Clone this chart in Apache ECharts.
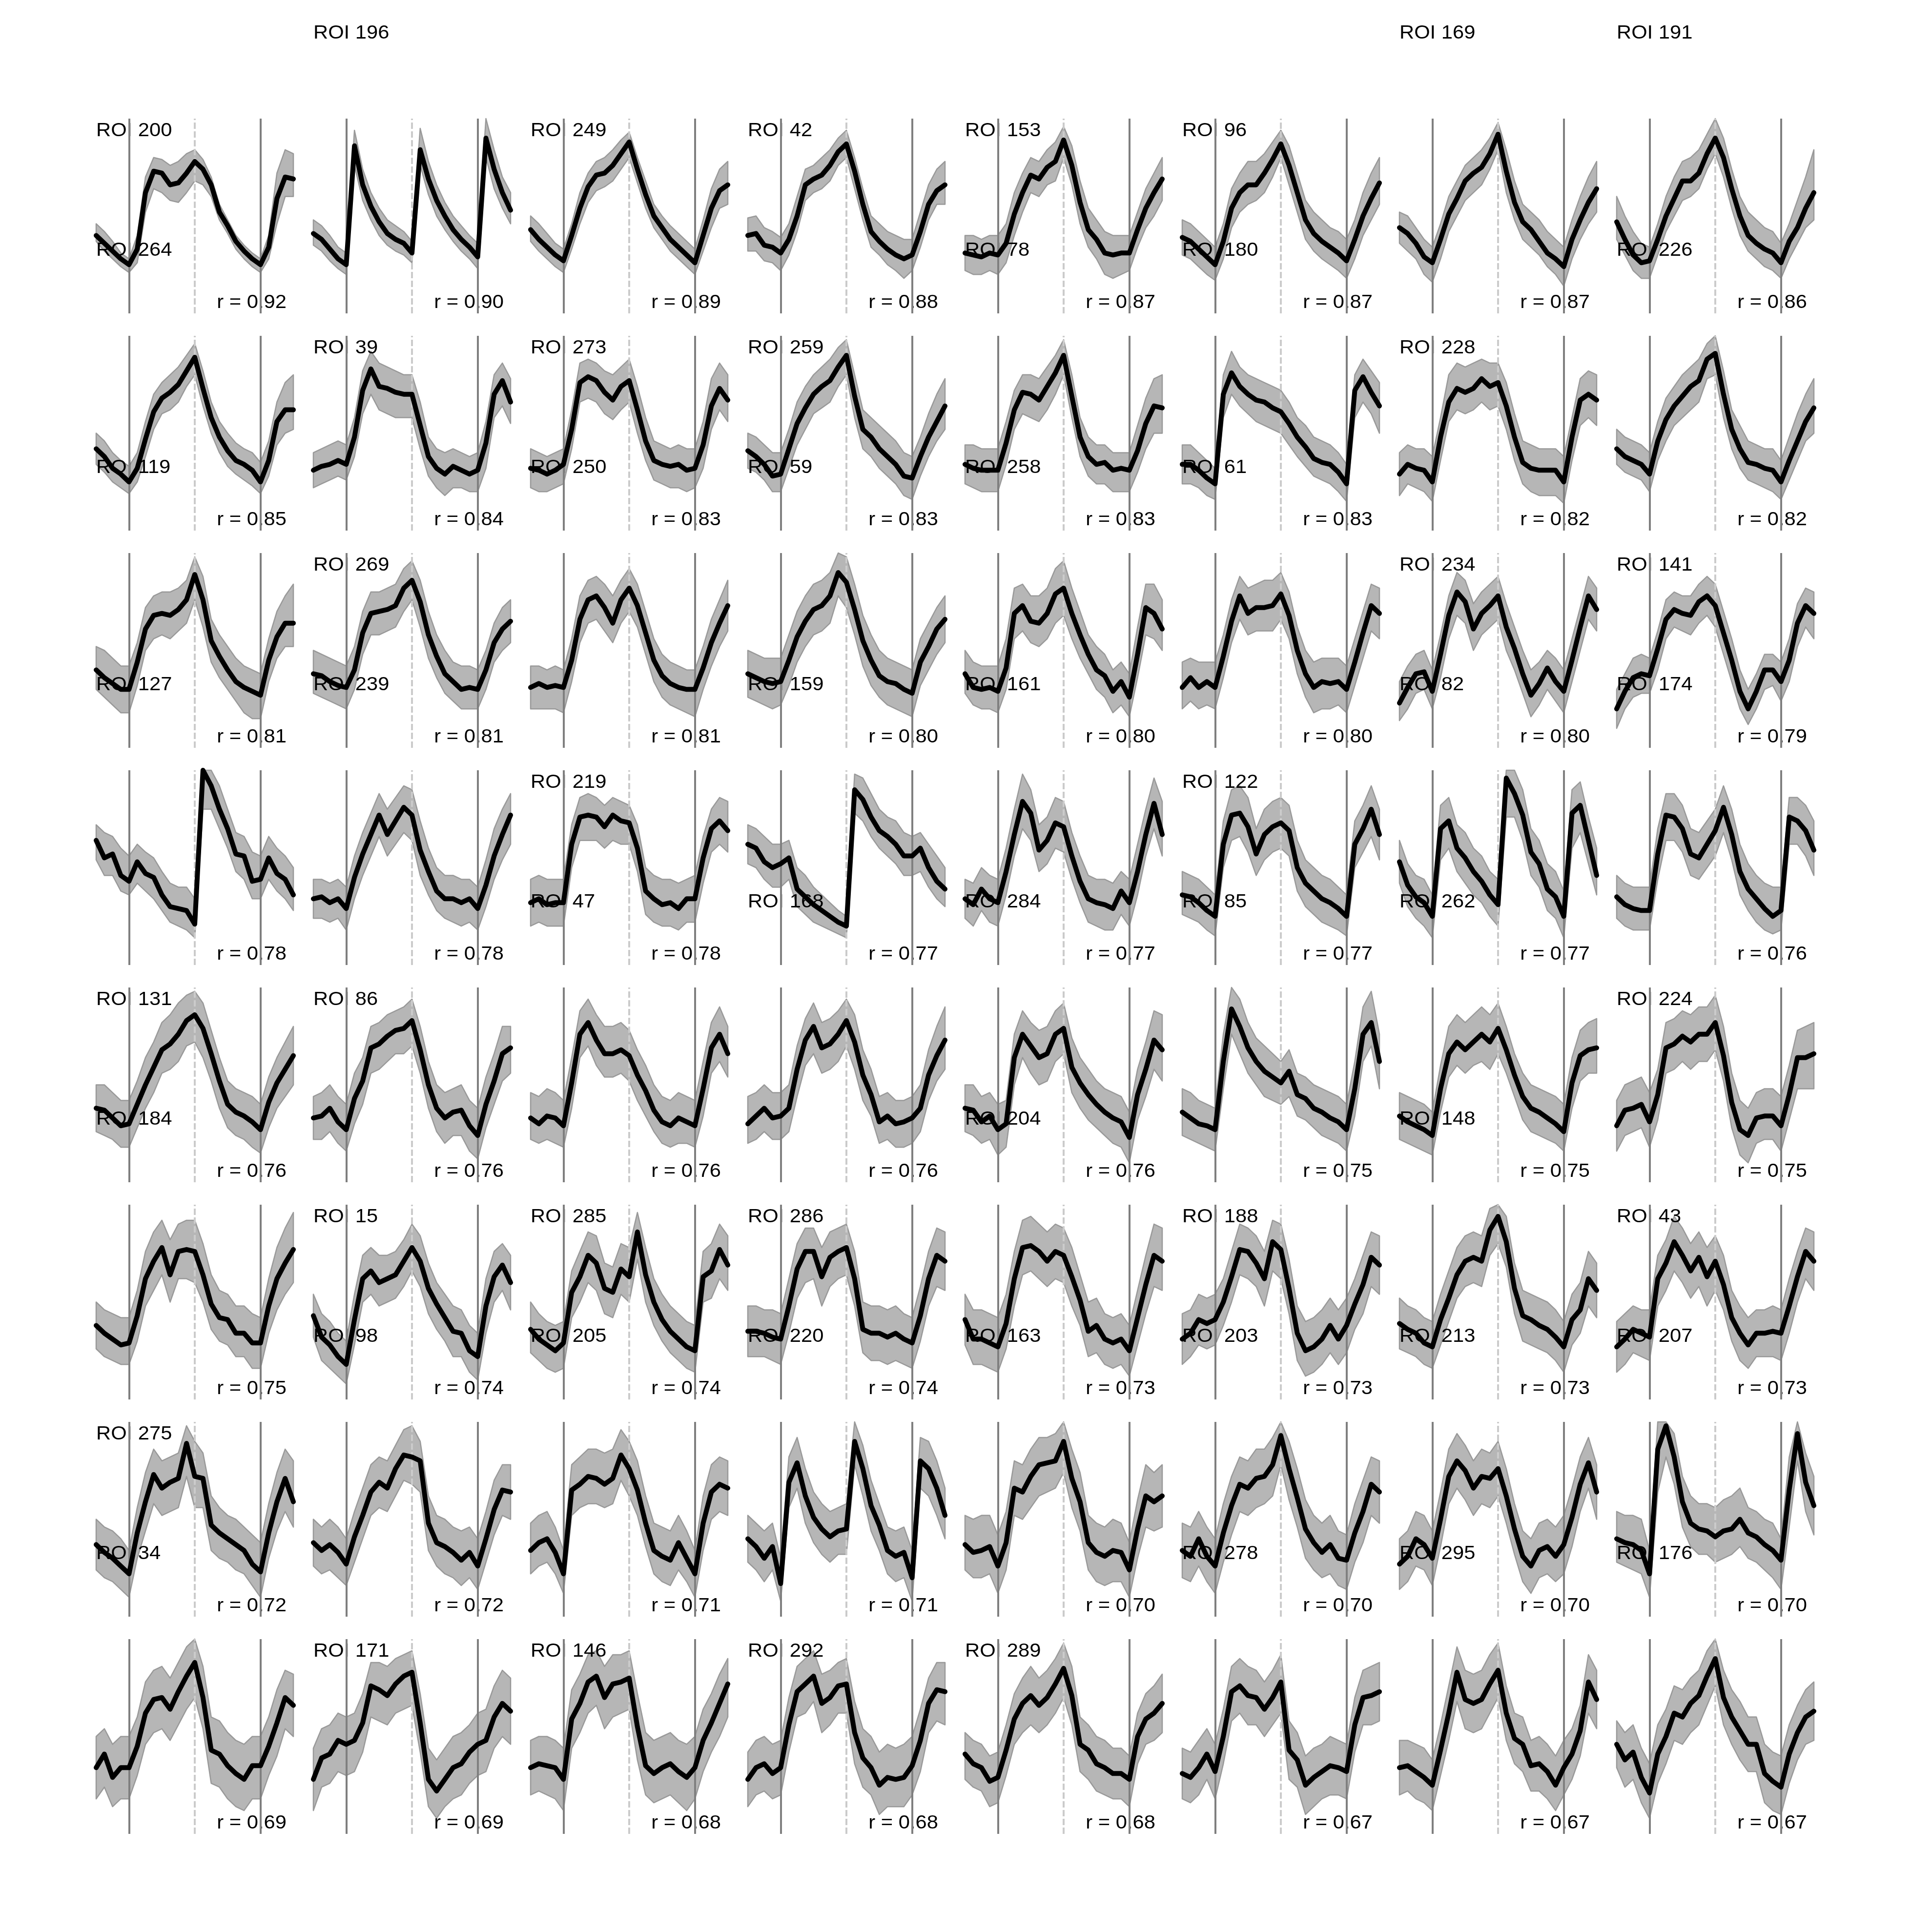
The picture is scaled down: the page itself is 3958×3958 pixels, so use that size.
<!DOCTYPE html>
<html><head><meta charset="utf-8">
<script src="https://cdn.jsdelivr.net/npm/echarts@6/dist/echarts.min.js"></script>
<style>html,body{margin:0;padding:0;background:#fff}#c{width:3958px;height:3958px}</style>
</head><body><div id="c"></div>
<script>
// sample times (s) of every trace
const timeS = [-1,-0.75,-0.5,-0.25,0,0.25,0.5,0.75,1,1.25,1.5,1.75,2,2.25,2.5,2.75,3,3.25,3.5,3.75,4,4.25,4.5,4.75,5];
// event markers (s)
const onsetTimes = [0, 4];
const midTimes = [2];

// ROI names, row by row (ordered by r)
const roiRow1 = ['ROI 200','ROI 196','ROI 249','ROI 42','ROI 153','ROI 96','ROI 169','ROI 191'];
const roiRow2 = ['ROI 264','ROI 39','ROI 273','ROI 259','ROI 78','ROI 180','ROI 228','ROI 226'];
const roiRow3 = ['ROI 119','ROI 269','ROI 250','ROI 59','ROI 258','ROI 61','ROI 234','ROI 141'];
const roiRow4 = ['ROI 127','ROI 239','ROI 219','ROI 159','ROI 161','ROI 122','ROI 82','ROI 174'];
const roiRow5 = ['ROI 131','ROI 86','ROI 47','ROI 168','ROI 284','ROI 85','ROI 262','ROI 224'];
const roiRow6 = ['ROI 184','ROI 15','ROI 285','ROI 286','ROI 204','ROI 188','ROI 148','ROI 43'];
const roiRow7 = ['ROI 275','ROI 98','ROI 205','ROI 220','ROI 163','ROI 203','ROI 213','ROI 207'];
const roiRow8 = ['ROI 34','ROI 171','ROI 146','ROI 292','ROI 289','ROI 278','ROI 295','ROI 176'];

// correlation values
const rRow1 = [0.92,0.90,0.89,0.88,0.87,0.87,0.87,0.86];
const rRow2 = [0.85,0.84,0.83,0.83,0.83,0.83,0.82,0.82];
const rRow3 = [0.81,0.81,0.81,0.80,0.80,0.80,0.80,0.79];
const rRow4 = [0.78,0.78,0.78,0.77,0.77,0.77,0.77,0.76];
const rRow5 = [0.76,0.76,0.76,0.76,0.76,0.75,0.75,0.75];
const rRow6 = [0.75,0.74,0.74,0.74,0.73,0.73,0.73,0.73];
const rRow7 = [0.72,0.72,0.71,0.71,0.70,0.70,0.70,0.70];
const rRow8 = [0.69,0.69,0.68,0.68,0.68,0.67,0.67,0.67];

// where each ROI name sits: 'in' = inside top of its panel, 'above' = above its panel
const slotRow1 = ['in','above','in','in','in','in','above','above'];
const slotRow2 = ['above','in','in','in','above','above','in','above'];
const slotRow3 = ['above','in','above','above','above','above','in','in'];
const slotRow4 = ['above','above','in','above','above','in','above','above'];
const slotRow5 = ['in','in','above','above','above','above','above','in'];
const slotRow6 = ['above','in','in','in','above','in','above','in'];
const slotRow7 = ['in','above','above','above','above','above','above','above'];
const slotRow8 = ['above','in','in','in','in','above','above','above'];

// mean traces (black), % of panel height
const meanRow1 = [
[40,36,32,28,25,33,62,73,72,66,67,72,78,74,66,52,45,37,32,28,25,34,59,70,69],
[41,38,33,28,25,86,66,55,47,41,38,36,31,84,69,58,50,43,38,34,29,90,74,62,53],
[43,38,34,30,27,40,54,65,71,72,76,82,88,74,61,50,44,38,34,30,26,40,54,63,66],
[40,41,35,34,31,38,50,66,69,71,76,83,87,73,56,42,37,33,30,28,30,42,56,63,66],
[31,30,29,31,30,36,51,62,71,69,75,78,89,76,57,43,38,31,30,31,31,43,54,62,69],
[39,37,33,29,25,37,54,62,66,66,72,79,87,76,62,48,41,37,34,31,27,38,50,59,67],
[44,41,36,29,26,38,51,59,68,72,75,82,92,73,57,47,43,37,31,28,24,38,48,57,64],
[47,38,30,26,27,38,50,59,68,68,72,82,90,80,64,50,40,36,33,31,26,37,44,54,62]];
const meanRow2 = [
[42,38,32,29,25,32,47,61,68,71,75,82,89,73,58,48,41,36,34,31,25,36,56,62,62],
[31,33,34,36,34,48,72,83,74,73,71,70,70,54,38,32,29,33,31,29,31,45,70,77,66],
[32,31,29,31,34,52,76,79,77,71,67,74,77,62,46,36,34,33,34,31,32,44,64,73,67],
[41,38,34,28,29,42,55,63,70,74,77,84,90,69,52,48,42,38,34,28,27,38,48,56,64],
[34,32,31,31,31,45,62,71,70,67,74,81,90,69,48,38,34,35,31,32,31,41,55,64,63],
[34,34,31,27,24,70,81,74,70,67,66,63,61,55,48,43,37,35,34,30,24,72,79,71,64],
[29,34,32,31,25,48,66,73,71,73,78,74,76,64,48,35,32,31,31,31,25,48,67,70,67],
[42,38,36,34,29,46,57,64,69,74,77,88,91,70,52,42,35,34,32,31,25,36,46,56,63]];
const meanRow3 = [
[40,36,33,30,30,44,61,68,69,68,71,76,89,76,55,47,40,34,31,29,27,45,57,64,64],
[38,37,34,32,31,40,59,69,70,71,73,82,86,75,58,47,38,34,30,31,30,40,54,61,65],
[31,33,31,32,31,45,66,76,78,72,64,76,82,73,59,45,37,33,31,30,30,41,54,64,73],
[38,36,34,33,34,45,57,65,71,73,78,90,85,71,55,45,37,34,33,30,28,44,52,61,66],
[38,31,30,31,29,41,69,73,65,64,69,79,82,69,58,48,40,37,29,34,26,48,72,69,61],
[31,36,31,34,31,47,65,78,69,72,72,73,79,68,50,38,31,34,33,34,30,44,59,73,69],
[23,31,38,39,29,48,68,80,75,61,69,73,78,62,51,38,27,33,41,34,29,45,62,78,71],
[20,29,36,38,37,51,66,71,69,68,75,78,73,59,45,29,20,29,40,40,34,45,64,73,69]];
const meanRow4 = [
[64,55,57,46,43,53,47,45,36,30,29,28,21,100,92,80,70,57,56,43,44,55,47,44,36],
[34,35,32,34,29,45,57,67,77,67,74,81,77,59,48,38,34,34,32,34,29,41,56,67,77],
[32,34,31,32,32,62,76,77,76,71,77,74,73,60,38,34,31,32,29,34,34,55,70,74,69],
[62,60,53,50,52,55,39,35,31,28,25,22,20,90,85,76,69,66,62,56,56,60,50,43,39],
[34,31,39,34,32,48,67,84,78,59,64,73,71,56,43,34,32,31,29,38,32,48,67,83,67],
[36,35,32,28,25,62,77,78,71,57,67,71,73,69,50,42,38,34,32,29,25,62,70,80,67],
[53,41,35,32,25,70,74,60,55,48,43,36,31,96,88,77,58,52,39,35,25,78,82,64,46],
[35,31,29,28,28,57,77,76,70,57,55,62,69,81,67,48,39,34,29,25,28,76,74,69,59]];
const meanRow5 = [
[38,37,33,29,30,40,50,59,68,71,76,83,86,79,66,52,40,36,34,31,27,41,51,58,65],
[33,34,38,31,27,43,52,69,71,75,78,79,83,68,50,38,33,36,37,29,24,40,52,66,69],
[33,30,34,33,29,51,76,82,73,66,66,68,65,55,47,37,31,29,33,31,29,48,69,76,66],
[30,34,38,33,34,38,58,73,80,69,71,76,83,72,55,45,31,34,30,31,33,38,55,65,73],
[38,37,31,34,27,30,64,76,70,64,66,76,79,59,51,45,40,36,33,31,23,45,58,73,68],
[36,33,30,29,27,62,89,80,69,62,57,54,51,57,45,43,38,36,33,31,27,48,76,82,62],
[34,31,29,27,24,48,66,72,68,72,76,72,79,68,55,44,38,36,33,30,26,51,65,68,69],
[29,37,38,40,31,45,69,71,75,72,76,76,82,65,41,27,24,33,34,34,29,45,64,64,66]];
const meanRow6 = [
[38,34,31,28,29,43,62,71,78,64,76,77,76,64,49,42,41,34,34,29,29,48,62,70,77],
[43,32,28,22,18,41,62,66,60,62,64,71,78,71,57,49,42,35,34,25,22,48,63,69,60],
[36,31,28,25,29,55,63,74,70,57,55,67,63,86,64,50,41,35,31,27,25,63,66,77,69],
[35,35,34,32,31,48,67,76,76,63,73,76,78,62,36,34,34,32,34,31,29,43,62,74,71],
[41,31,31,29,27,39,62,78,79,76,71,76,74,63,51,35,38,31,29,31,25,42,59,74,71],
[31,34,41,39,41,50,63,77,76,70,62,81,77,57,34,25,27,31,38,31,38,49,59,73,69],
[39,36,34,29,27,41,52,64,71,73,71,87,94,81,57,43,41,38,36,32,27,41,46,62,56],
[27,31,36,34,32,62,70,81,74,66,73,63,71,59,42,34,28,34,34,35,34,48,63,76,71]];
const meanRow7 = [
[37,33,30,26,22,43,59,73,66,69,71,89,72,71,47,43,40,37,34,27,23,43,59,71,59],
[38,34,37,33,27,41,52,64,69,66,76,83,82,80,48,38,36,33,29,33,26,40,55,65,64],
[34,38,40,33,22,65,68,72,71,68,71,83,76,65,48,34,31,29,38,30,22,48,64,68,66],
[40,36,30,36,17,69,79,62,51,45,41,44,45,90,76,57,47,34,31,33,20,80,76,66,52],
[37,33,34,36,26,38,66,64,72,78,79,80,90,71,59,38,33,31,34,33,24,45,62,59,62],
[34,31,40,31,26,43,57,68,66,71,72,78,93,76,61,45,38,33,37,30,29,43,54,68,64],
[27,31,40,37,30,50,72,80,75,66,72,71,76,62,45,31,26,34,36,31,37,51,68,79,64],
[40,38,37,34,22,86,98,82,59,48,45,44,41,44,45,50,43,41,37,34,29,65,94,69,57]];
const meanRow8 = [
[34,41,29,34,34,45,62,69,70,64,73,81,88,70,43,41,35,31,28,35,35,45,57,70,66],
[28,39,41,48,46,48,57,76,74,71,77,81,83,57,28,22,28,34,36,42,46,48,60,67,63],
[34,36,35,34,28,59,67,78,81,70,77,78,80,55,35,31,34,36,32,29,34,48,57,67,77],
[28,34,36,31,34,56,73,77,81,67,70,76,77,52,39,34,25,29,28,29,35,48,67,74,73],
[41,36,34,27,29,43,59,67,71,66,70,77,85,71,46,43,36,34,31,31,28,50,59,62,67],
[31,29,34,41,32,50,73,76,71,70,64,70,78,43,38,25,29,32,35,34,32,56,70,71,73],
[34,35,32,29,25,43,62,83,69,67,69,77,84,62,49,46,35,36,32,25,34,41,53,78,69],
[46,38,42,29,21,41,50,62,60,67,71,81,90,70,60,53,46,46,31,27,24,41,52,60,63]];

// upper edge of the single-trial bundle (grey)
const hiRow1 = [
[46,42,37,31,28,40,70,80,79,76,78,82,84,79,70,56,48,40,35,31,28,40,72,84,82],
[48,45,40,34,31,94,74,62,54,48,45,42,37,95,78,66,57,50,45,40,36,100,84,70,62],
[50,46,41,36,33,46,62,72,78,80,84,89,93,80,68,56,50,45,41,37,33,48,64,74,78],
[49,50,44,42,39,46,60,74,76,80,84,90,94,80,64,50,46,42,40,38,38,52,66,74,78],
[40,40,38,40,40,46,62,72,80,78,84,88,96,86,68,54,48,42,40,40,40,52,64,72,80],
[48,46,42,38,34,46,64,72,78,78,82,88,94,86,72,58,52,48,44,42,38,48,62,72,80],
[52,50,44,38,34,46,60,68,76,80,84,90,98,84,68,56,52,48,42,38,34,48,60,70,78],
[60,50,42,36,34,46,60,70,78,80,84,92,100,90,74,60,52,48,44,42,36,46,58,70,84]];
const hiRow2 = [
[50,46,40,36,33,40,56,70,76,80,84,90,96,82,66,56,50,45,42,40,35,46,66,76,80],
[40,42,44,46,44,58,82,92,86,84,82,80,80,66,48,42,40,42,40,38,40,56,80,86,78],
[42,40,38,40,42,62,86,88,86,82,80,84,88,74,58,46,44,42,44,42,42,56,78,86,80],
[50,48,44,40,40,52,66,74,80,84,88,94,98,80,62,58,54,50,46,40,38,48,60,70,78],
[44,44,42,42,42,56,72,80,80,78,84,90,98,80,58,48,44,44,40,40,40,54,68,78,80],
[44,44,40,36,32,80,92,84,80,78,76,74,72,66,58,54,48,46,44,40,34,80,88,82,76],
[40,44,42,42,38,58,80,86,84,86,88,86,86,76,60,46,44,42,42,42,38,58,78,82,80],
[52,48,46,44,40,56,68,74,80,84,88,96,100,82,62,54,46,44,42,42,36,48,60,70,78]];
const hiRow3 = [
[52,50,46,42,42,54,72,78,80,80,82,86,98,88,66,58,52,46,42,40,38,56,70,78,84],
[50,48,46,44,42,52,70,80,80,82,84,92,96,86,70,58,50,44,42,42,40,50,64,72,76],
[42,42,40,42,40,56,78,86,88,84,78,86,92,84,70,56,48,44,42,40,40,52,66,76,86],
[50,48,46,46,46,58,70,78,84,86,90,100,98,84,68,58,50,46,44,42,40,56,64,72,78],
[50,44,42,42,42,56,82,84,78,78,82,92,96,82,70,58,52,48,40,44,38,62,84,84,76],
[44,46,44,44,44,58,76,88,82,84,86,86,90,80,62,50,44,46,46,46,42,56,70,84,82],
[34,42,48,50,40,58,78,90,86,74,80,84,88,74,62,50,40,44,50,46,40,56,72,88,82],
[30,38,46,48,46,60,76,80,78,78,84,88,84,70,56,40,30,38,48,48,44,56,74,82,80]];
const hiRow4 = [
[72,68,66,60,56,62,58,55,48,42,40,40,34,100,100,92,80,68,66,58,56,66,60,56,50],
[44,44,42,44,40,56,68,78,88,80,86,92,90,74,60,50,46,46,44,44,40,54,70,80,88],
[44,46,44,44,44,72,86,88,86,82,86,84,82,72,50,46,44,44,42,44,46,66,80,86,84],
[72,70,66,62,62,64,50,46,40,36,32,28,25,98,96,88,80,76,74,68,66,68,62,56,50],
[44,42,50,46,44,60,80,98,90,72,76,86,84,68,56,46,44,44,42,48,44,62,80,96,84],
[48,46,44,40,36,74,90,92,86,70,80,84,86,82,64,54,50,46,44,40,36,74,82,92,80],
[64,52,46,44,36,82,86,72,68,60,56,48,44,100,100,90,70,64,52,48,38,90,94,76,60],
[46,42,40,40,40,70,88,88,82,70,68,74,80,92,80,62,52,46,42,40,40,86,86,82,74]];
const hiRow5 = [
[50,50,46,42,42,52,64,72,82,86,92,96,98,92,78,64,52,48,46,44,40,54,64,72,80],
[44,46,50,44,40,56,64,80,82,86,88,90,94,80,62,50,46,48,50,42,38,54,66,80,80],
[46,44,48,46,42,64,88,94,86,80,80,82,78,68,60,50,44,42,46,44,42,62,82,90,80],
[44,46,50,46,46,50,70,84,92,82,84,88,94,86,68,58,44,46,42,42,44,50,68,80,90],
[50,50,44,46,40,42,76,88,82,78,80,88,92,74,64,58,52,48,46,44,36,58,72,88,86],
[48,46,42,40,38,76,100,94,82,74,70,66,62,68,56,54,50,48,46,44,40,62,90,98,76],
[46,44,42,40,36,60,80,86,82,86,90,86,92,80,66,56,50,48,46,44,40,64,78,82,84],
[42,50,52,54,46,58,82,84,88,86,90,90,96,80,56,42,38,46,48,48,44,60,78,80,82]];
const hiRow6 = [
[50,46,44,42,42,56,76,86,92,82,90,92,92,80,64,56,54,48,48,44,42,62,78,88,96],
[54,44,40,34,30,54,74,78,74,74,76,82,90,84,70,60,54,48,46,38,34,62,76,80,74],
[50,44,40,38,40,66,76,86,84,70,68,80,78,96,78,62,54,48,44,40,38,76,80,90,84],
[48,48,46,46,44,62,80,88,88,78,86,88,90,76,50,48,48,46,48,44,42,58,76,88,86],
[54,46,46,44,42,54,76,92,94,90,86,90,88,78,64,50,52,44,42,44,38,56,74,90,88],
[44,46,54,52,54,62,76,90,88,84,76,92,90,72,48,40,42,46,52,46,52,62,74,86,84],
[52,48,46,42,40,54,66,78,84,86,84,98,100,94,70,56,54,52,50,46,40,54,60,76,70],
[40,44,48,46,46,74,82,94,88,80,86,78,84,74,56,48,42,46,46,48,46,62,76,88,86]];
const hiRow7 = [
[50,46,44,40,34,56,74,86,80,82,84,98,90,84,62,56,52,50,46,42,38,58,74,86,80],
[50,46,50,46,40,54,66,78,82,80,88,96,98,90,62,52,50,46,44,46,40,54,70,78,78],
[48,52,54,46,34,78,82,86,86,84,86,96,90,80,62,48,46,44,52,44,34,62,78,82,80],
[52,48,44,48,30,82,92,76,64,58,54,56,58,100,88,70,58,46,44,46,34,92,90,80,66],
[52,50,52,52,42,54,80,78,86,92,92,94,100,86,74,52,48,46,50,48,38,60,78,74,78],
[48,46,54,46,40,58,72,82,80,86,86,92,100,90,76,60,52,48,52,44,42,58,70,82,80],
[40,44,54,52,44,64,86,94,88,80,86,84,90,76,58,44,40,48,50,46,52,66,82,92,78],
[54,52,52,50,34,100,100,94,72,62,58,58,56,60,62,66,56,54,50,48,40,82,100,84,72]];
const hiRow8 = [
[50,54,46,50,50,60,78,84,86,80,88,96,100,86,60,58,52,48,46,50,50,60,74,84,82],
[44,54,56,62,60,62,72,88,88,86,90,92,94,72,44,38,44,50,52,56,62,64,76,84,80],
[48,50,50,48,44,74,82,92,94,86,92,92,94,72,52,48,50,52,48,46,50,64,72,82,90],
[42,48,50,46,48,70,86,90,94,82,84,88,90,68,54,50,42,46,44,46,50,64,80,88,88],
[52,48,46,40,42,56,72,80,86,80,84,90,98,86,60,56,50,48,44,44,40,62,72,76,82],
[44,42,48,54,46,64,86,90,86,84,78,84,92,58,52,40,44,46,50,48,46,70,84,86,88],
[48,48,46,44,38,56,76,96,84,82,84,92,98,76,62,60,48,50,46,40,48,54,66,92,84],
[58,52,56,44,36,56,64,76,74,80,84,94,100,84,74,68,60,60,46,42,40,56,66,74,78]];

// lower edge of the single-trial bundle (grey)
const loRow1 = [
[37,32,28,24,21,26,52,64,62,58,57,62,68,66,60,48,41,33,28,24,21,28,46,60,60],
[35,32,27,23,20,76,58,48,40,35,32,30,26,76,61,50,43,37,32,28,23,80,64,54,46],
[37,32,28,24,21,33,46,57,63,65,68,74,80,67,54,44,38,32,28,24,20,32,44,54,56],
[32,32,27,26,22,30,42,58,62,64,68,76,80,64,48,34,30,25,22,18,22,34,48,56,56],
[22,20,20,22,20,26,40,52,62,60,66,68,80,66,46,34,28,20,18,20,22,34,44,50,58],
[30,28,24,20,17,28,44,52,56,58,62,70,80,66,52,38,32,28,25,22,18,28,40,48,56],
[36,32,28,20,16,28,42,50,58,62,66,74,84,62,48,38,34,30,24,20,14,28,38,46,52],
[38,30,22,18,18,30,42,50,58,60,64,74,82,70,54,40,32,28,24,22,18,28,36,44,48]];
const loRow2 = [
[34,30,25,22,19,25,38,52,60,62,66,74,80,64,50,40,33,29,26,23,19,28,44,50,52],
[22,24,26,28,26,38,60,70,62,60,58,58,58,42,28,22,18,22,22,20,20,32,58,64,55],
[22,20,20,22,24,42,66,68,66,60,57,62,66,50,36,26,24,22,22,20,22,32,52,62,56],
[32,30,26,20,20,32,44,52,60,63,66,74,80,58,42,38,32,28,24,18,16,28,38,46,52],
[24,22,20,20,20,34,52,60,58,56,62,70,80,58,38,28,24,24,20,20,20,30,42,50,50],
[24,24,22,18,16,58,70,64,60,56,54,52,50,44,38,33,28,26,24,20,15,58,66,60,50],
[18,24,22,20,15,36,56,62,60,62,66,62,64,52,36,24,20,18,18,18,14,36,54,58,54],
[34,30,28,26,20,36,46,54,58,62,66,78,80,58,42,32,26,24,22,20,16,26,36,46,50]];
const loRow3 = [
[30,26,22,18,18,32,50,56,58,56,60,64,76,62,44,36,30,24,18,15,15,34,46,52,52],
[28,26,24,22,20,30,48,58,58,60,62,70,76,62,46,36,28,24,20,20,20,30,44,50,54],
[20,20,20,20,18,34,54,64,66,60,54,64,70,62,48,34,26,22,20,18,16,30,42,52,60],
[26,24,22,20,22,32,44,52,58,60,64,78,72,58,42,32,26,22,20,18,16,32,40,48,54],
[28,22,20,20,18,30,56,60,54,52,56,64,68,56,46,38,30,26,18,22,16,36,58,56,50],
[20,24,20,22,20,36,54,66,58,60,60,60,66,56,38,26,18,20,20,22,18,32,46,60,56],
[14,20,28,30,20,36,56,68,64,50,58,62,66,50,40,28,16,22,30,24,18,34,50,66,60],
[10,20,26,28,28,40,56,62,60,58,64,68,62,48,34,20,12,20,30,32,24,34,52,62,56]];
const loRow4 = [
[54,46,46,38,36,42,38,34,28,22,20,18,14,80,80,70,60,48,44,34,34,44,38,34,28],
[24,24,22,24,18,34,46,56,66,56,62,68,64,46,36,28,24,22,20,22,18,30,44,54,62],
[20,22,20,20,20,50,64,64,64,60,64,62,62,48,26,22,20,20,18,22,22,42,58,62,58],
[52,50,44,40,40,44,30,26,22,20,18,16,14,78,74,66,60,56,52,46,46,48,40,34,30],
[24,20,28,22,20,36,56,70,64,48,52,60,58,44,32,22,20,18,18,26,20,36,56,70,56],
[26,24,22,18,15,50,64,66,58,46,54,58,60,56,38,30,26,22,20,18,15,50,58,66,54],
[42,30,24,20,14,54,60,48,42,36,32,25,20,76,76,64,46,40,28,24,14,60,68,52,36],
[24,20,18,18,18,44,64,64,58,46,44,50,56,68,54,36,28,22,18,16,18,62,62,56,46]];
const loRow5 = [
[26,24,22,18,18,28,38,46,56,58,62,70,72,64,52,38,28,24,22,18,15,28,38,44,50],
[22,22,26,20,16,30,40,56,58,62,66,66,70,56,38,26,20,24,24,16,12,28,40,52,56],
[22,20,22,20,18,38,64,70,60,54,54,56,52,42,34,26,20,18,20,20,18,34,56,62,54],
[20,22,26,22,22,26,44,60,66,56,58,62,70,58,42,34,20,22,18,18,20,26,42,52,58],
[26,24,20,22,14,18,50,64,56,50,52,62,66,46,38,32,28,24,20,18,10,32,44,58,52],
[24,22,20,18,16,48,76,66,56,50,44,42,40,44,34,32,28,24,22,20,16,34,62,70,48],
[22,20,18,16,14,36,54,60,56,60,62,58,66,56,44,32,26,24,22,20,16,38,52,56,56],
[16,24,26,28,18,32,56,58,62,58,62,62,68,52,28,14,10,20,22,22,16,32,48,48,48]];
const loRow6 = [
[26,22,20,18,18,30,48,56,64,50,62,62,60,50,36,30,28,22,22,16,16,34,46,54,60],
[32,20,16,12,8,28,50,54,48,50,52,58,66,58,44,36,30,22,22,14,10,34,50,56,46],
[24,20,16,14,16,42,50,60,56,44,42,54,50,72,50,38,30,24,20,16,14,50,52,62,56],
[22,22,22,20,18,34,52,60,62,48,58,62,64,48,24,20,20,18,20,18,16,30,48,58,56],
[28,18,18,16,14,26,48,64,66,62,58,62,60,48,38,22,24,18,16,18,12,28,44,58,56],
[18,22,28,26,28,38,50,64,62,58,48,66,62,44,20,12,14,18,24,18,24,36,44,58,54],
[26,24,22,18,16,28,40,52,58,60,58,74,80,68,44,30,28,26,24,20,14,28,34,48,42],
[14,18,24,22,20,48,56,66,60,52,58,48,56,46,30,20,16,22,22,22,20,34,50,62,56]];
const loRow7 = [
[24,20,18,14,10,30,44,58,52,54,56,72,56,56,34,30,28,24,22,16,10,30,44,54,46],
[26,22,24,20,16,28,40,52,56,54,62,70,68,64,34,26,22,20,16,20,14,28,42,52,50],
[22,26,28,22,12,52,56,58,58,56,58,70,62,52,36,22,18,16,24,18,10,34,50,54,52],
[28,24,18,24,8,56,66,48,38,32,28,32,32,78,62,44,34,22,18,20,8,66,62,52,40],
[24,20,20,22,12,24,52,50,56,62,64,66,74,56,44,24,18,16,18,18,10,30,46,44,46],
[20,18,26,18,12,28,42,54,52,56,58,62,78,60,46,30,24,20,22,16,14,28,38,52,48],
[14,18,26,24,16,36,58,66,60,52,58,56,62,48,32,18,12,20,22,18,22,36,54,66,50],
[28,26,24,22,10,64,82,68,46,36,32,32,28,30,32,36,30,28,24,20,14,46,80,54,42]];
const loRow8 = [
[18,24,14,18,18,30,46,52,54,48,56,64,70,54,26,24,18,14,12,18,18,30,40,54,50],
[12,24,26,32,30,32,42,60,58,56,62,64,66,42,14,8,14,18,20,26,30,32,44,50,46],
[20,22,20,18,12,44,52,62,66,54,60,62,64,38,20,16,18,20,16,12,18,32,42,50,60],
[14,20,22,18,20,42,60,62,68,52,56,62,62,36,24,20,10,14,14,14,20,32,52,58,56],
[28,24,22,14,16,30,46,52,56,52,56,62,70,56,32,28,22,20,18,18,14,36,46,48,52],
[18,16,20,28,18,36,58,62,56,56,50,56,62,28,24,10,14,18,20,20,18,42,56,56,58],
[20,22,18,16,12,30,48,68,54,52,54,62,70,48,36,32,22,22,18,12,20,28,40,62,54],
[34,24,28,16,8,26,36,48,46,52,56,66,76,56,46,38,32,32,16,12,10,26,38,46,48]];

// ---------- layout / style ----------
const L = {left0: 197, top0: 243, pitch: 445, w: 404, h: 399};
const FONT = '39px "Liberation Sans", Arial, Helvetica, sans-serif';
const TEXT_SCALE_X = 1.07;

const roiRows = [roiRow1,roiRow2,roiRow3,roiRow4,roiRow5,roiRow6,roiRow7,roiRow8];
const rRows = [rRow1,rRow2,rRow3,rRow4,rRow5,rRow6,rRow7,rRow8];
const slotRows = [slotRow1,slotRow2,slotRow3,slotRow4,slotRow5,slotRow6,slotRow7,slotRow8];
const meanRows = [meanRow1,meanRow2,meanRow3,meanRow4,meanRow5,meanRow6,meanRow7,meanRow8];
const hiRows = [hiRow1,hiRow2,hiRow3,hiRow4,hiRow5,hiRow6,hiRow7,hiRow8];
const loRows = [loRow1,loRow2,loRow3,loRow4,loRow5,loRow6,loRow7,loRow8];

const bad = [];
[meanRows, hiRows, loRows].forEach((set, s) => set.forEach((row, r) => {
  if (row.length !== 8) bad.push('set'+s+' row'+r+' has '+row.length);
  row.forEach((a, c) => { if (a.length !== timeS.length) bad.push('set'+s+' r'+r+' c'+c+' len '+a.length); });
}));
if (bad.length) throw new Error(bad.join('; '));

const grids = [], xAxes = [], yAxes = [], series = [], texts = [];
const solidLine = {color: '#7f7f7f', width: 4, type: 'solid'};
const dashLine = {color: '#cbcbcb', width: 4, type: [13, 5]};

function bandRenderer(lo, hi) {
  return function (params, api) {
    if (params.dataIndex !== 0) return null;
    const upper = timeS.map((t, i) => api.coord([t, hi[i]]));
    const lower = timeS.map((t, i) => api.coord([t, lo[i]])).reverse();
    return {
      type: 'polygon',
      shape: {points: upper.concat(lower)},
      style: {fill: '#b6b6b6', stroke: '#999999', lineWidth: 2.5, lineJoin: 'round'}
    };
  };
}

for (let r = 0; r < 8; r++) {
  for (let c = 0; c < 8; c++) {
    const k = r * 8 + c;
    const left = L.left0 + L.pitch * c;
    const top = L.top0 + L.pitch * r;
    grids.push({left: left, top: top, width: L.w, height: L.h, containLabel: false});
    xAxes.push({gridIndex: k, type: 'value', min: -1, max: 5, show: false});
    yAxes.push({gridIndex: k, type: 'value', min: 0, max: 100, show: false});
    const m = meanRows[r][c], hi = hiRows[r][c], lo = loRows[r][c];
    const marks = onsetTimes.map(t => ({xAxis: t, lineStyle: solidLine}))
      .concat(midTimes.map(t => ({xAxis: t, lineStyle: dashLine})));
    // grey single-trial bundle
    series.push({
      type: 'custom', xAxisIndex: k, yAxisIndex: k, z: 2, silent: true,
      data: timeS.map((t, i) => [t, lo[i], hi[i]]),
      encode: {x: 0, y: [1, 2]},
      renderItem: bandRenderer(lo, hi)
    });
    // event lines carried by an invisible helper series
    series.push({
      type: 'line', xAxisIndex: k, yAxisIndex: k, z: 2, silent: true,
      data: timeS.map((t, i) => [t, lo[i]]),
      symbol: 'none', lineStyle: {opacity: 0, width: 0},
      markLine: {silent: true, symbol: 'none', label: {show: false}, animation: false, data: marks}
    });
    // mean trace
    series.push({
      type: 'line', xAxisIndex: k, yAxisIndex: k,
      data: timeS.map((t, i) => [t, m[i]]),
      symbol: 'none', silent: true, z: 10,
      lineStyle: {color: '#000000', width: 10, cap: 'round', join: 'round'}
    });
    texts.push({
      type: 'text', x: left + 390, y: top + 377, z: 3, silent: true, scaleX: TEXT_SCALE_X,
      style: {text: 'r = ' + rRows[r][c].toFixed(2), font: FONT, fill: '#000', align: 'right', verticalAlign: 'middle'}
    });
    texts.push({
      type: 'text', x: left, y: slotRows[r][c] === 'in' ? top + 25 : top - 175, z: 3, silent: true, scaleX: TEXT_SCALE_X,
      style: {text: roiRows[r][c], font: FONT, fill: '#000', align: 'left', verticalAlign: 'middle'}
    });
  }
}

const chart = echarts.init(document.getElementById('c'), null, {renderer: 'canvas', width: 3958, height: 3958});
chart.setOption({
  animation: false,
  backgroundColor: '#ffffff',
  grid: grids, xAxis: xAxes, yAxis: yAxes, series: series,
  graphic: {elements: texts}
});
</script></body></html>
